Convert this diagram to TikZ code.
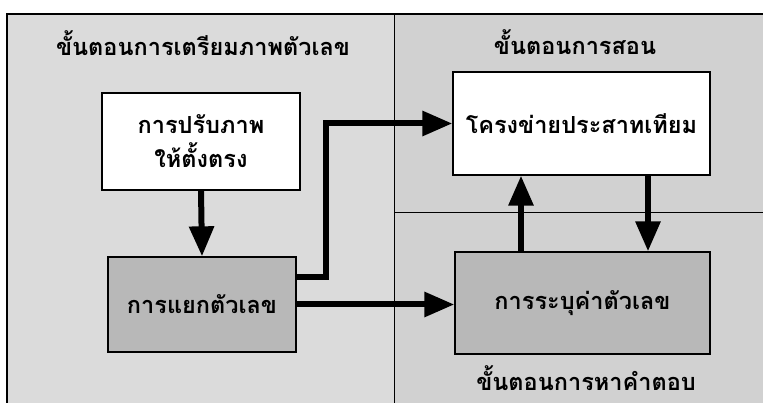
\documentclass[tikz,border=0pt]{standalone}
\usepackage{fontspec}
\newfontfamily\thai[Script=Thai]{Loma}
\usetikzlibrary{arrows.meta}
\definecolor{leftbg}{gray}{0.86}
\definecolor{rightbg}{gray}{0.82}
\definecolor{boxgray}{gray}{0.72}
\tikzset{
  procbox/.style={draw=black, line width=1.3pt, minimum width=#1, align=center, inner sep=0pt, font=\thai\bfseries\fontsize{23.5}{34}\selectfont},
  whitebox/.style={fill=white},
  graybox/.style={fill=boxgray},
  title/.style={font=\thai\bfseries\fontsize{23.5}{28}\selectfont, inner sep=0pt},
  arr/.style={line width=6pt, -{Triangle[length=30pt,width=24pt]}, draw=black},
}
\begin{document}
\begin{tikzpicture}[x=1pt,y=-1pt]
\useasboundingbox (0,0) rectangle (763,403);
\fill[white] (0,0) rectangle (763,403);
\fill[leftbg] (7,14) rectangle (394,403);
\fill[rightbg] (394,14) rectangle (763,403);
\draw[line width=1.5pt] (7,403) -- (7,14) -- (763,14);
\draw[line width=1pt] (394,14) -- (394,403);
\draw[line width=1pt] (394,213) -- (763,213);

\node[title] (t1) at (203,43) {ขั้นตอนการเตรียมภาพตัวเลข};
\node[title] (t2) at (575,42) {ขั้นตอนการสอน};
\node[title] (t3) at (586,378) {ขั้นตอนการหาคำตอบ};

\node[procbox=198pt, whitebox, minimum height=97pt] (b1) at (201,141.5) {การปรับภาพ\\ให้ตั้งตรง};
\node[procbox=188pt, graybox, minimum height=95pt] (b2) at (202,304.5) {การแยกตัวเลข};
\node[procbox=257pt, whitebox, minimum height=103pt] (b3) at (581.5,123.5) {โครงข่ายประสาทเทียม};
\node[procbox=255pt, graybox, minimum height=102pt] (b4) at (582.5,303) {การระบุค่าตัวเลข};

\coordinate (bend) at (326,277);
\coordinate (upx) at (521,0);
\coordinate (downx) at (648,0);

\draw[arr] (b1.south) -- (b2.north);
\draw[arr] (b2.east |- bend) -- (bend) |- (b3.west);
\draw[arr] (b2.east) -- (b2.east -| b4.west);
\draw[arr] (b4.north -| upx) -- (b3.south -| upx);
\draw[arr] (b3.south -| downx) -- (b4.north -| downx);
\end{tikzpicture}
\end{document}
